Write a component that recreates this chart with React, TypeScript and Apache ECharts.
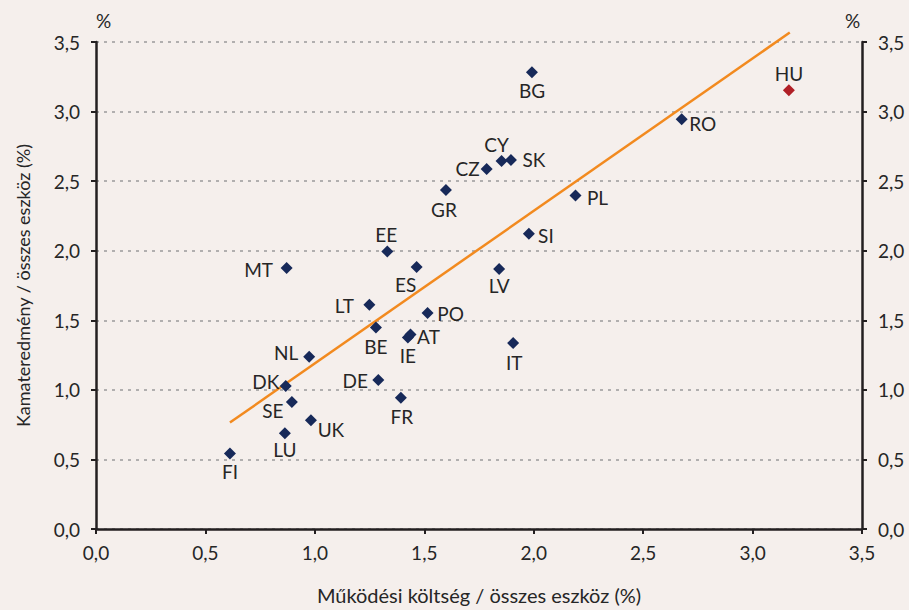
import React, { useEffect, useRef } from "react";
import * as echarts from "echarts";

const countries = ["FI", "LU", "UK", "SE", "DK", "DE", "FR", "NL", "BE", "IE", "AT", "LT", "PO", "ES", "MT", "EE", "GR", "LV", "IT", "SI", "PL", "CZ", "CY", "SK", "BG", "RO", "HU"];
const operatingCost = [0.612, 0.863, 0.982, 0.895, 0.867, 1.290, 1.393, 0.974, 1.279, 1.425, 1.437, 1.249, 1.515, 1.465, 0.871, 1.331, 1.599, 1.842, 1.906, 1.978, 2.191, 1.785, 1.853, 1.896, 1.992, 2.676, 3.166];
const interestIncome = [0.543, 0.688, 0.781, 0.913, 1.027, 1.070, 0.944, 1.238, 1.448, 1.376, 1.398, 1.611, 1.553, 1.883, 1.876, 1.995, 2.437, 1.869, 1.336, 2.122, 2.396, 2.588, 2.645, 2.652, 3.283, 2.944, 3.154];
const highlighted = "HU";
const trendX = [0.612, 3.17];
const trendY = [0.765, 3.568];
const tickValues = [0, 0.5, 1, 1.5, 2, 2.5, 3, 3.5];

// label offsets (px) relative to marker centre: styling only
const labelOffset: Record<string, [number, number]> = {
  FI: [0, 18], LU: [0, 16], UK: [20, 9], SE: [-19, 9], DK: [-20, -5], DE: [-23, 0],
  FR: [1, 19], NL: [-23, -4], BE: [0, 19], IE: [0, 18], AT: [18, 2], LT: [-25, 1],
  PO: [23, 1], ES: [-11, 18], MT: [-28, 2], EE: [-1, -17], GR: [-2, 20], LV: [0, 17],
  IT: [1, 19], SI: [17, 2], PL: [22, 2], CZ: [-19, 0], CY: [-5, -16], SK: [23, 0],
  BG: [0, 18], RO: [21, 4], HU: [0, -17],
};

const FONT = "Lato";
const FS = 19;
const TEXT = "#262626";
const fmt = (v: number) => v.toFixed(1).replace(".", ",");

export default function App() {
  const ref = useRef<HTMLDivElement>(null);
  useEffect(() => {
    if (!ref.current) return;
    const chart = echarts.init(ref.current, null, { renderer: "svg" });
    const points = countries.map((c, i) => ({
      name: c,
      value: [operatingCost[i], interestIncome[i]],
      itemStyle: { color: c === highlighted ? "#b01f26" : "#172959", opacity: 1 },
      label: { offset: labelOffset[c] || [0, 0] },
    }));
    const axisCommon = {
      type: "value" as const,
      min: tickValues[0],
      max: tickValues[tickValues.length - 1],
      interval: 0.5,
      axisLine: { show: true, lineStyle: { color: "#231f20", width: 2.5 } },
      axisTick: { show: true, length: 5, lineStyle: { color: "#231f20", width: 2 } },
      axisLabel: { formatter: fmt, fontFamily: FONT, fontSize: FS, color: TEXT, margin: 16 },
    };
    chart.setOption({
      animation: false,
      backgroundColor: "#f5efec",
      grid: { left: 96, right: 47, top: 42, bottom: 80, containLabel: false },
      xAxis: {
        ...axisCommon,
        name: "Működési költség / összes eszköz (%)",
        nameLocation: "middle",
        nameGap: 56,
        nameTextStyle: { fontFamily: FONT, fontSize: 20, color: TEXT },
        splitLine: { show: false },
        axisLabel: { ...axisCommon.axisLabel, margin: 14 },
      },
      yAxis: [
        {
          ...axisCommon,
          position: "left",
          name: "Kamateredmény / összes eszköz (%)",
          nameLocation: "middle",
          nameGap: 64,
          nameTextStyle: { fontFamily: FONT, fontSize: 18, color: TEXT },
          splitLine: { show: true, lineStyle: { color: "#9a9a9a", width: 1.5, type: [3, 5] } },
        },
        {
          ...axisCommon,
          position: "right",
          splitLine: { show: false },
        },
      ],
      graphic: [
        { type: "text", left: 96, top: 11, style: { text: "%", font: `${FS}px ${FONT}`, fill: TEXT } },
        { type: "text", left: 845, top: 11, style: { text: "%", font: `${FS}px ${FONT}`, fill: TEXT } },
      ],
      series: [
        {
          type: "line",
          data: trendX.map((x, i) => [x, trendY[i]]),
          showSymbol: false,
          symbol: "none",
          clip: false,
          lineStyle: { color: "#f28a1f", width: 2.5 },
          silent: true,
          z: 2,
        },
        {
          type: "scatter",
          symbol: "diamond",
          symbolSize: 12,
          data: points,
          clip: false,
          z: 3,
          label: {
            show: true,
            position: "inside",
            formatter: (p: any) => p.name,
            fontFamily: FONT,
            fontSize: FS,
            color: TEXT,
          },
          emphasis: { disabled: true },
        },
      ],
    });
    return () => chart.dispose();
  }, []);
  return <div ref={ref} style={{ position: "fixed", left: 0, top: 0, width: 909, height: 610 }} />;
}
